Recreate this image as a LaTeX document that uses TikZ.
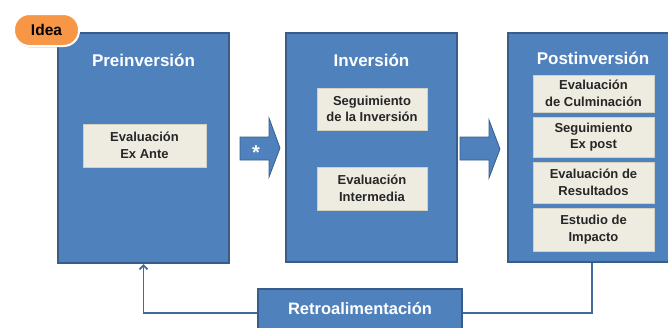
\documentclass[tikz,border=0pt]{standalone}
\usepackage{fontspec}
\setmainfont{Liberation Sans}
\usetikzlibrary{calc,arrows.meta,shadows}
\definecolor{bfill}{HTML}{4F81BD}
\definecolor{bline}{HTML}{385D8A}
\definecolor{cline}{HTML}{41699B}
\definecolor{sfill}{HTML}{EEECE1}
\definecolor{sline}{HTML}{D4D0C0}
\definecolor{ofill}{HTML}{F79646}
\definecolor{dtext}{HTML}{262626}
\begin{document}
\begin{tikzpicture}[x=1pt,y=-1pt,
  phase/.style={draw=bline,line width=2pt,fill=bfill,inner sep=0pt},
  ptitle/.style={text=white,font=\fontsize{17}{20}\selectfont\bfseries,inner sep=0pt},
  sub/.style={draw=sline,line width=0.8pt,fill=sfill,text=dtext,align=center,inner sep=0pt,
    font=\fontsize{13}{16.5}\selectfont\bfseries},
  blockarrow/.style={draw=bline,line width=0.8pt,fill=bfill},
  conn/.style={draw=cline,line width=1.8pt}]
\useasboundingbox (0,0) rectangle (668,327);
\clip (0,0) rectangle (668,327);
% phases
\node[phase,minimum width=171pt,minimum height=230pt] (pre) at (143.5,148) {};
\node[phase,minimum width=171pt,minimum height=229pt] (inv) at (371.5,147.5) {};
\node[phase,minimum width=168pt,minimum height=229pt] (post) at (592,147.5) {};
\node[ptitle] (pret) at (143.5,60) {Preinversión};
\node[ptitle] (invt) at (371.5,60) {Inversión};
\node[ptitle] (postt) at (593,58) {Postinversión};
% sub boxes
\node[sub,minimum width=123pt,minimum height=43pt] (exante) at (144.5,145.5) {Evaluación\\Ex Ante};
\node[sub,minimum width=110pt,minimum height=42pt] (seg) at (372,109) {Seguimiento\\de la Inversión};
\node[sub,minimum width=110pt,minimum height=43pt] (inter) at (372,188.5) {Evaluación\\Intermedia};
\node[sub,minimum width=121pt,minimum height=37pt] (culm) at (593.5,93.5) {Evaluación\\de Culminación};
\node[sub,minimum width=121pt,minimum height=40pt] (segex) at (593.5,137) {Seguimiento\\Ex post};
\node[sub,minimum width=121pt,minimum height=41pt] (res) at (593.5,182.5) {Evaluación de\\Resultados};
\node[sub,minimum width=121pt,minimum height=43pt] (imp) at (593.5,229.5) {Estudio de\\Impacto};
% block arrows
\draw[blockarrow] (240,137) -- (269,137) -- (269,118) -- (280,148) -- (269,177) -- (269,160) -- (240,160) -- cycle;
\draw[blockarrow] (460,137) -- (489,137) -- (489,120) -- (500,149) -- (489,178) -- (489,160) -- (460,160) -- cycle;
\node[text=white,font=\fontsize{20}{20}\selectfont\bfseries,inner sep=0pt] (star) at (256,153) {*};
% idea
\node[draw=white,line width=2pt,fill=ofill,rounded corners=15.5pt,minimum width=65pt,minimum height=32pt,
  drop shadow={shadow xshift=1pt,shadow yshift=-1.5pt,opacity=0.35},
  font=\fontsize{15.5}{17}\selectfont\bfseries,text=black] (idea) at (46.5,30) {Idea};
% retro
\node[phase,minimum width=204pt,minimum height=48pt,text=white,
  font=\fontsize{16.5}{18}\selectfont\bfseries,text height=13pt,text depth=10pt] (retro) at (360,313) {Retroalimentación};
\draw[conn,-{Straight Barb[length=4pt,width=8pt]}] (retro.west) -| (pre.south);
\draw[conn] (retro.east) -| (post.south);
\end{tikzpicture}
\end{document}
